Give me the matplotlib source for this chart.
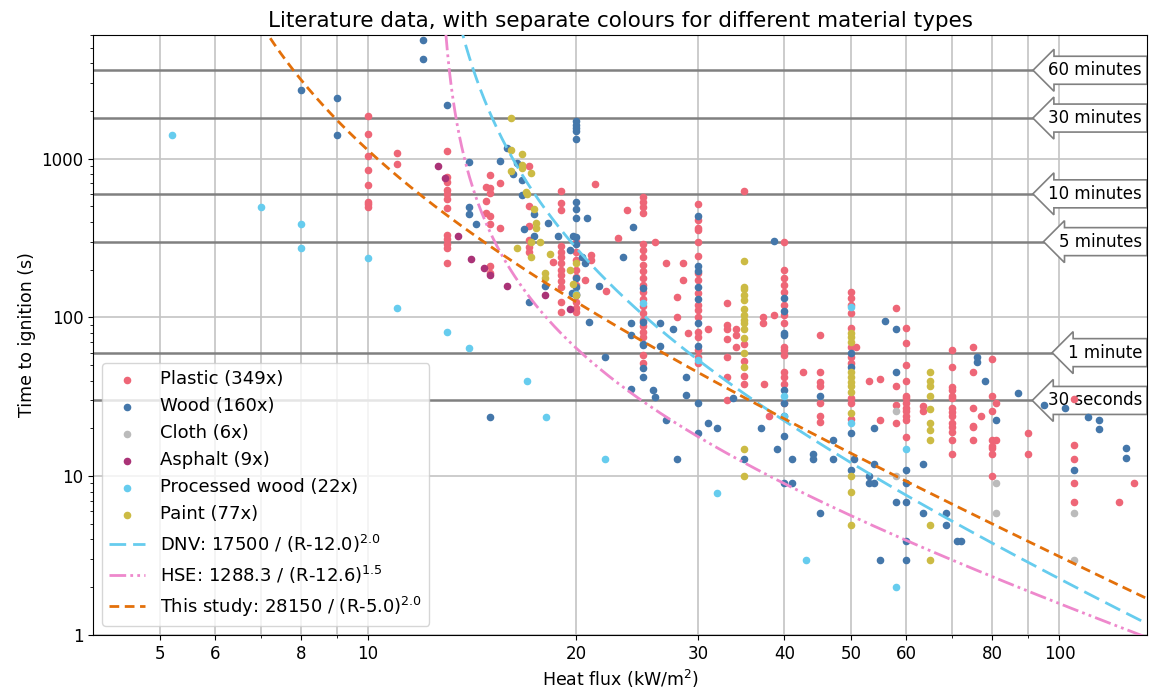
import numpy as np
import matplotlib.pyplot as plt
from matplotlib.ticker import NullFormatter

# ---------------------------------
# literature data: (heat flux [kW/m2], time to ignition [s])
# ---------------------------------
plastic = [
    (10, 1866), (10, 1438), (10, 1044), (10, 852), (10, 686), (10, 535), (10, 520), (10, 498),
    (11, 1090), (11, 930),
    (13, 1123), (13, 770), (13, 716), (13, 637), (13, 601), (13, 559), (13, 491), (13, 331),
    (13, 312), (13, 291), (13, 274), (13, 221),
    (15, 793), (14.8, 666), (15, 656), (15, 610), (14.8, 543), (14.8, 457), (15, 437), (15, 389),
    (15.5, 706), (15.5, 367), (15, 212), (15, 191),
    (17.1, 903), (17.1, 505), (17.1, 378), (17.1, 309), (17.1, 279), (17.1, 259), (18.5, 224),
    (19, 628), (19, 528), (19, 477), (19, 280), (19, 260), (19, 240), (19, 220), (19, 200),
    (19, 185), (19, 170), (19, 155), (19, 125), (19, 108),
    (20, 300), (20, 260), (20, 230), (20, 200), (20, 180), (20, 160), (20, 140), (20, 125),
    (20, 115), (20, 108),
    (21.3, 695), (21, 248), (21, 231), (20.6, 172), (22.1, 147),
    (23, 317), (23.7, 477), (26, 300), (27, 221), (28.5, 221), (28.5, 172), (28, 135), (28, 101),
    (29, 80), (31, 85),
    (25, 576), (25, 535), (25, 498), (25, 457), (25, 290), (25, 265), (25, 240), (25, 215),
    (25, 195), (25, 178), (25, 160), (25, 145), (25, 130), (25, 118), (25, 107), (25, 97),
    (25, 88), (25, 81), (25, 75), (25, 58), (25, 52),
    (30, 520), (30, 413), (30, 367), (30, 356), (30, 300), (30, 245), (30, 191), (30, 172),
    (30, 143), (30, 120), (30, 112), (30, 101), (30, 81), (30, 75), (30, 62), (30, 56), (30, 52),
    (33, 123), (33, 90), (33, 84), (33, 73), (33, 56), (33, 42), (33, 30),
    (34, 84), (34, 77), (34, 65),
    (35, 628), (35, 68), (35, 53), (35, 43), (35, 38),
    (37.3, 101), (37.3, 92), (38.7, 103), (37.4, 38), (38, 24),
    (40, 300), (40, 200), (40, 177), (40, 160), (40, 145), (40, 120), (40, 104), (40, 92),
    (40, 65), (40, 62), (40, 58), (40, 45), (40, 42), (40, 38), (40, 29),
    (42.5, 45),
    (45, 77), (45, 45), (45, 39), (45, 37), (45, 29), (45, 24), (45, 22),
    (50, 145), (50, 133), (50, 120), (50, 107), (50, 86), (50, 65), (50, 56), (50, 52),
    (50, 31), (50, 29), (50, 23), (50.8, 65),
    (53, 40), (55, 41), (55, 22.5),
    (58, 115), (58, 37), (58, 28), (58, 21.6),
    (60, 86), (60, 69), (60, 50), (60, 40), (60, 32), (60, 31), (60, 29), (60, 27),
    (60, 25.6), (60, 24), (60, 22.5), (60, 17.6),
    (63.5, 27.5), (63.5, 25.8),
    (70, 62), (70, 49), (70, 36.5), (70, 35), (70, 32), (70, 31), (70, 27), (70, 25.5),
    (70, 24), (70, 21.6), (70, 20.4), (70, 19), (70, 16.9), (70, 13.9),
    (75, 65), (75, 45), (75, 27), (75, 20.7), (75, 20.3), (75, 17), (77, 24),
    (80, 55), (80, 32), (80, 25.6), (80, 17), (80, 15.6), (80, 15), (80, 13.9), (80, 10),
    (81, 29), (81, 16.9),
    (90, 18.6), (90, 13.9),
    (105, 30.6), (105, 15.7), (105, 12.8), (105, 9), (105, 6.9),
    (122, 6.9), (128, 9),
]

wood = [
    (8, 2686), (9, 2393), (9, 1417), (12, 5548), (12, 4218), (13, 2160),
    (14, 957), (15.5, 970), (15.9, 1173), (16.2, 804), (16.4, 944), (16.7, 737), (16.7, 593),
    (14, 498), (14, 449), (14.3, 389), (16.8, 362), (17.4, 449), (17.4, 327), (18.2, 395),
    (18.8, 327), (19.8, 327), (19.6, 267), (20.4, 241), (20.6, 221), (19.7, 143), (18, 158),
    (21.6, 158), (17.1, 125), (20.9, 94), (24.2, 372), (23.4, 241), (24, 92), (24, 78),
    (26.4, 92), (27.6, 85),
    (20, 1718), (20, 1638), (20, 1562), (20, 1486), (20, 1337), (20, 535), (20, 484),
    (20, 425), (20, 322), (20, 291), (20, 177), (20, 156), (20, 139), (20.7, 425),
    (25, 154), (25, 94), (25, 67),
    (15, 23.6), (28, 12.8), (22, 56.5), (25, 48), (25, 42), (24, 35.4), (25.8, 35), (26, 31.5),
    (28.8, 42), (28.8, 32.4), (27, 22.5), (30, 29), (30, 18.6), (26.4, 66), (25, 68),
    (30, 437), (30, 212), (30, 197), (30, 156), (30, 131), (30, 92), (30, 66),
    (38.7, 304),
    (40, 133), (40, 110), (40, 80), (40, 78), (40, 35), (40, 29), (40, 24), (40, 18),
    (33.7, 31), (37, 20), (31, 21.6), (32, 20),
    (35, 12.9), (39, 14.8), (41, 12.9), (40, 9), (41, 9), (44, 13.9), (44, 12.9), (47, 12.9),
    (47, 17), (45, 5.9), (45, 32),
    (50.5, 12.9), (50, 10.9), (53, 10), (53, 9), (54, 9), (54, 11.9), (55, 2.95), (58, 6.9),
    (60, 10.9), (60, 9), (60, 6.9), (60, 3.9), (60, 2.95), (63.5, 11.9), (63.5, 5.9),
    (68.6, 5.9), (68.6, 4.9), (71, 3.9), (72, 3.9),
    (50, 60), (50, 49), (50, 18.6),
    (54, 20), (56, 95), (58, 85), (58, 45),
    (76, 56), (76, 52.5), (78, 40), (81, 22.5),
    (87, 33.5), (95, 27.9), (102, 27), (110, 23.5), (114, 22.5), (114, 19.9), (105, 10.9),
    (125, 15), (125, 13),
]

cloth = [(58, 25.8), (58, 10), (81, 9), (81, 5.9), (105, 5.9), (105, 2.95)]

asphalt = [(12.6, 903), (12.9, 759), (13.5, 327), (14.1, 234), (14.7, 205), (15, 185),
           (15.9, 158), (18, 139), (19.6, 113)]

processed_wood = [
    (5.2, 1400), (7, 497), (8, 389), (8, 274), (10, 237), (11, 115), (13, 81), (14, 64),
    (17, 40), (18.1, 23.6), (20, 140), (22, 12.8), (25, 123), (30, 54), (32, 7.8), (40, 32),
    (40, 24), (43, 2.95), (50, 117), (50, 21.6), (58, 2.0), (60, 14.8),
]

paint = [
    (16.1, 1813), (16.1, 1140), (16.7, 1075), (16.7, 917), (16.7, 877), (17.2, 816),
    (16.1, 840), (16.9, 619), (17, 601), (17.4, 484), (17.5, 395), (17.5, 367), (17.2, 300),
    (17.7, 300), (16.4, 274), (17.2, 241), (18.3, 252), (18, 191), (18, 178), (19.6, 200),
    (20, 221), (19.8, 163), (20, 139),
    (35, 228), (35, 156), (35, 150), (35, 139), (35, 129), (35, 113), (35, 104), (35, 97),
    (35, 92), (35, 84), (35, 74), (35, 60), (35, 49), (35, 14.8), (35, 10),
    (50, 80), (50, 75), (50, 70), (50, 45), (50, 42), (50, 39), (50, 37), (50, 34), (50, 25),
    (50, 10), (50, 7.9), (50, 4.9),
    (65, 45), (65, 40), (65, 37), (65, 32), (65, 26.5), (65, 21.6), (65, 19.5), (65, 17),
    (65, 4.9), (65, 2.95),
]

materials = ['Plastic', 'Wood', 'Cloth', 'Asphalt', 'Processed wood', 'Paint']
counts = [349, 160, 6, 9, 22, 77]
datasets = [plastic, wood, cloth, asphalt, processed_wood, paint]
colors = ['#EE6677', '#4477AA', '#BBBBBB', '#AA3377', '#66CCEE', '#CCBB44']

# correlations: t = a / (R - b)^c
corr_names = ['DNV', 'HSE', 'This study']
corr_a = [17500, 1288.3, 28150]
corr_b = [12.0, 12.6, 5.0]
corr_c = [2.0, 1.5, 2.0]
corr_colors = ['#66CCEE', '#EE88CC', '#E3700A']
corr_styles = [(0, (6, 2.5)), (0, (6, 1.5, 1, 1.5, 1, 1.5)), (0, (3.5, 2))]

# reference times
ref_times = [3600, 1800, 600, 300, 60, 30]
ref_labels = ['60 minutes', '30 minutes', '10 minutes', '5 minutes', '1 minute', '30 seconds']

fig, ax = plt.subplots(figsize=(11.56, 6.95), dpi=100)
plt.subplots_adjust(left=0.0805, right=0.9925, top=0.9496, bottom=0.0863)

for name, n, data, col in zip(materials, counts, datasets, colors):
    d = np.array(data)
    ax.scatter(d[:, 0], d[:, 1], s=20, color=col, label=f'{name} ({n}x)', zorder=2.5)

xmin, xmax = 4, 134
for name, a, b, c, col, ls in zip(corr_names, corr_a, corr_b, corr_c, corr_colors, corr_styles):
    r = np.logspace(np.log10(b + 0.05), np.log10(xmax), 2000)
    ax.plot(r, a / (r - b) ** c, color=col, lw=2, linestyle=ls,
            label=f'{name}: {a:g} / (R-{b:.1f})$^{{{c:.1f}}}$', zorder=3)

for t, lab in zip(ref_times, ref_labels):
    ax.axhline(t, color='#808080', lw=1.8, zorder=1.5)
    ax.text(0.995, t, lab, transform=ax.get_yaxis_transform(), ha='right', va='center',
            fontsize=12, zorder=2,
            bbox=dict(boxstyle='larrow,pad=0.3', fc='white', ec='#808080', lw=1.2))

ax.set_xscale('log')
ax.set_yscale('log')
ax.set_xlim(xmin, xmax)
ax.set_ylim(1, 6000)

xt = [5, 6, 8, 10, 20, 30, 40, 50, 60, 80, 100]
ax.set_xticks(xt, labels=[str(v) for v in xt])
ax.set_xticks([7, 9, 70, 90], minor=True)
ax.xaxis.set_minor_formatter(NullFormatter())
yt = [1, 10, 100, 1000]
ax.set_yticks(yt, labels=[str(v) for v in yt])
ax.yaxis.set_minor_formatter(NullFormatter())
ax.tick_params(labelsize=12)

ax.grid(which='both', axis='x', color='#c4c4c4', lw=1.2, zorder=0)
ax.grid(which='major', axis='y', color='#c4c4c4', lw=1.2, zorder=0)
ax.set_axisbelow(True)

ax.set_xlabel('Heat flux (kW/m$^2$)', fontsize=12.5)
ax.set_ylabel('Time to ignition (s)', fontsize=12.5)
ax.set_title('Literature data, with separate colours for different material types', fontsize=15.5)
ax.legend(loc='lower left', fontsize=13)

plt.savefig('out.png', dpi=100)
